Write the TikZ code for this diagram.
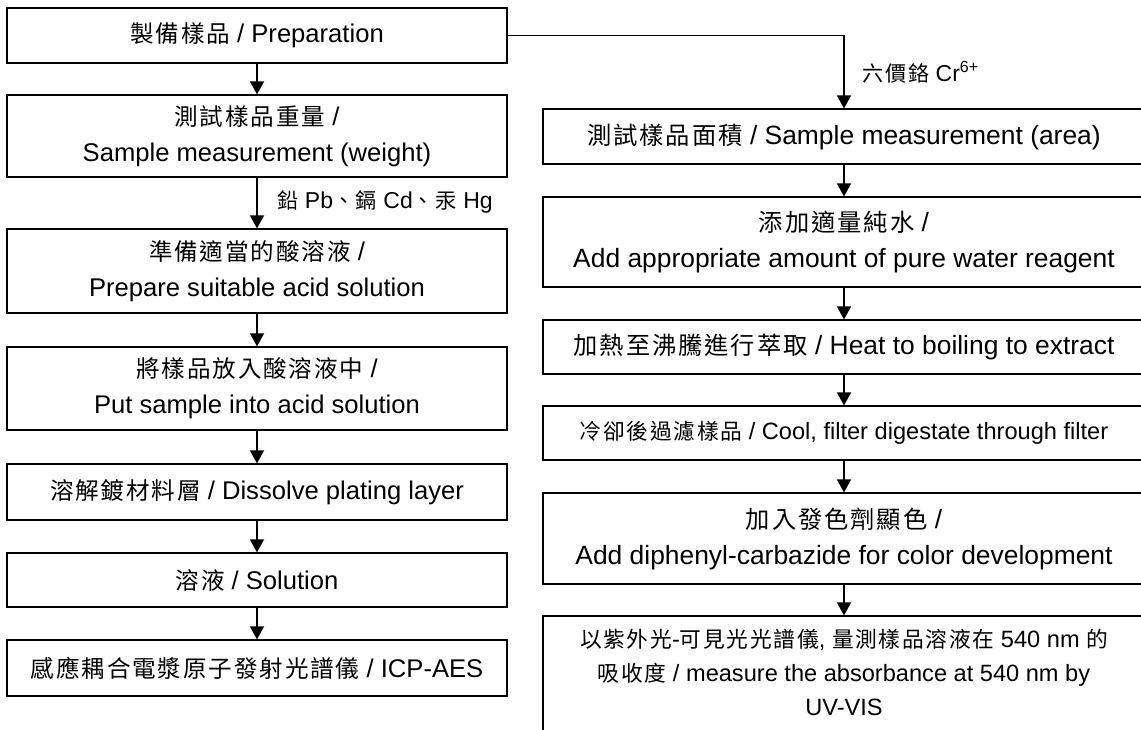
\documentclass[tikz,border=0pt]{standalone}
\usepackage{fontspec}
\setmainfont{Liberation Sans}
\newfontfamily\cjkfont[Scale=0.92,LetterSpace=8]{Noto Sans CJK TC}
\newcommand\zh[1]{{\cjkfont #1}}
\usetikzlibrary{arrows.meta}
\begin{document}
\begin{tikzpicture}[x=0.5pt,y=-0.5pt,
  box/.style={draw, line width=0.6pt, align=center, inner sep=0pt, font=\fontsize{12.8}{18}\selectfont},
  lbox/.style={box, minimum width=250pt},
  rbox/.style={box, minimum width=301pt, font=\fontsize{13.2}{18}\selectfont},
  sbox/.style={rbox, font=\fontsize{11.8}{17}\selectfont},
  arr/.style={line width=0.8pt, -{Triangle[length=6.5pt,width=7pt]}},
  lab/.style={anchor=west, inner sep=0pt, font=\fontsize{11.5}{13}\selectfont}]
\useasboundingbox (0,0) rectangle (1141,729);
% left column
\node[lbox, minimum height=27.5pt] (l1) at (257,35.5) {\zh{製備樣品} / Preparation};
\node[lbox, minimum height=41pt] (l2) at (257,136) {\zh{測試樣品重量} /\\ Sample measurement (weight)};
\node[lbox, minimum height=42pt] (l3) at (257,271) {\zh{準備適當的酸溶液} /\\ Prepare suitable acid solution};
\node[lbox, minimum height=41.5pt] (l4) at (257,388.5) {\zh{將樣品放入酸溶液中} /\\ Put sample into acid solution};
\node[lbox, minimum height=28pt] (l5) at (257,492) {\zh{溶解鍍材料層} / Dissolve plating layer};
\node[lbox, minimum height=27pt] (l6) at (257,580) {\zh{溶液} / Solution};
\node[lbox, minimum height=28pt] (l7) at (257,668) {\zh{感應耦合電漿原子發射光譜儀} / ICP-AES};
% right column
\node[rbox, minimum height=27.5pt] (r1) at (844,136.5) {\zh{測試樣品面積} / Sample measurement (area)};
\node[rbox, minimum height=45pt] (r2) at (844,242) {\zh{添加適量純水} /\\ Add appropriate amount of pure water reagent};
\node[rbox, minimum height=27pt] (r3) at (844,347) {\zh{加熱至沸騰進行萃取} / Heat to boiling to extract};
\node[sbox, minimum height=27pt] (r4) at (844,433) {\zh{冷卻後過濾樣品} / Cool, filter digestate through filter};
\node[rbox, minimum height=45.5pt] (r5) at (844,538.5) {\zh{加入發色劑顯色} /\\ Add diphenyl-carbazide for color development};
\node[sbox, minimum height=74pt] (r6) at (844,690) {};
\node[sbox, draw=none] (r6t) at (844,672) {\zh{以紫外光}-\zh{可見光光譜儀}, \zh{量測樣品溶液在} 540 nm \zh{的}\\ \zh{吸收度} / measure the absorbance at 540 nm by\\ UV-VIS};
% connectors
\draw[arr] (l1) -- (l2);
\draw[arr] (l2) -- (l3);
\draw[arr] (l3) -- (l4);
\draw[arr] (l4) -- (l5);
\draw[arr] (l5) -- (l6);
\draw[arr] (l6) -- (l7);
\draw[arr] (l1.east) -| (r1.north);
\draw[arr] (r1) -- (r2);
\draw[arr] (r2) -- (r3);
\draw[arr] (r3) -- (r4);
\draw[arr] (r4) -- (r5);
\draw[arr] (r5) -- (r6);
% labels
\node[lab] (lpb) at (277,202) {\zh{鉛} Pb\zh{、鎘} Cd\zh{、汞} Hg};
\node[lab] (lcr) at (862,72) {\zh{六價鉻} Cr\textsuperscript{6+}};
\end{tikzpicture}
\end{document}
